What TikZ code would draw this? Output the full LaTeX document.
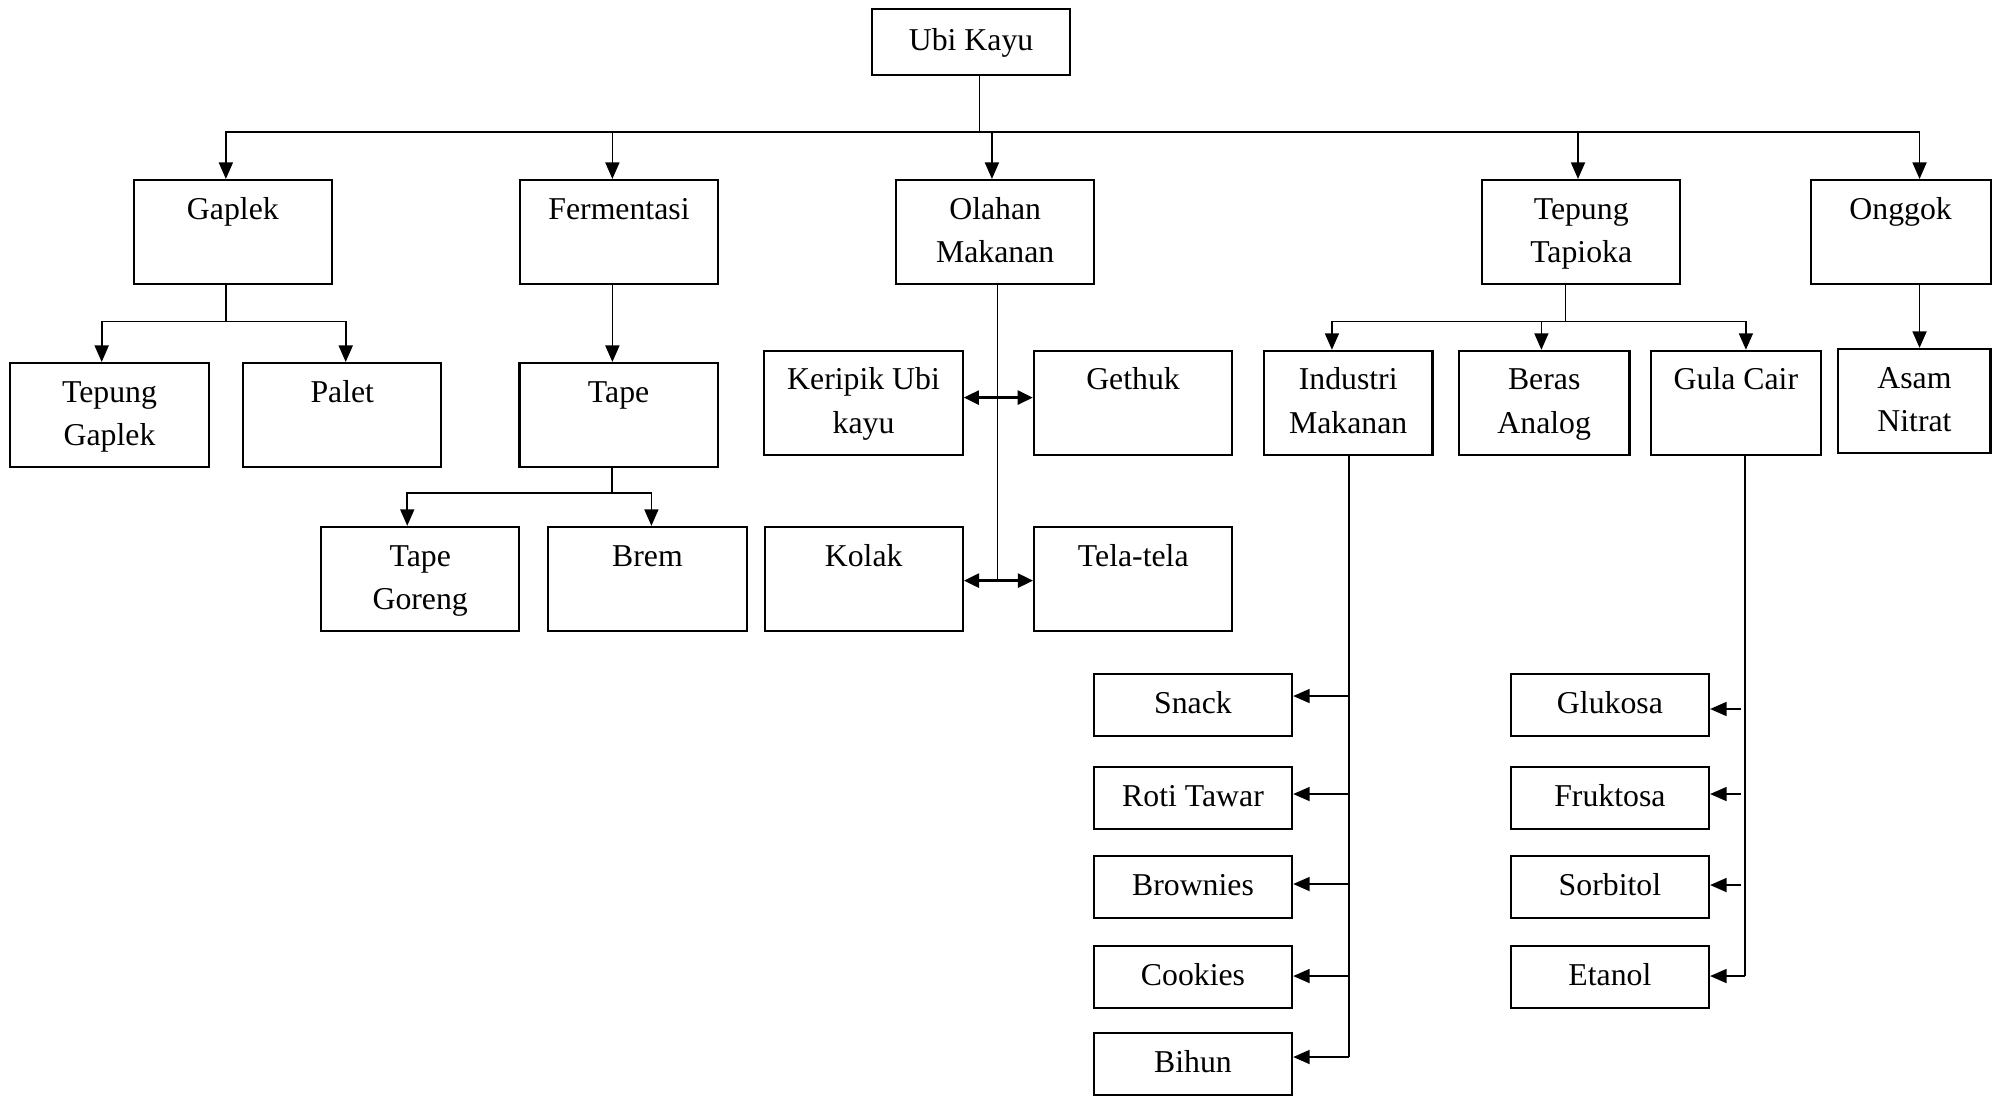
\documentclass[tikz,border=0pt]{standalone}
\usepackage{fontspec}
\setmainfont{Liberation Serif}
\usetikzlibrary{arrows.meta}
\begin{document}
\begin{tikzpicture}[x=1pt,y=-1pt,
  box/.style={draw,line width=1.6pt,minimum width=156pt,minimum height=82pt,inner sep=0pt,align=center,font=\fontsize{25}{34}\selectfont},
  sbox/.style={box,minimum height=48.8pt},
  conn/.style={line width=1.4pt},
  thin/.style={line width=1.1pt},
  arr/.style={conn,-{Triangle[length=13pt,width=11pt]}},
  dbl/.style={line width=2.2pt,{Triangle[length=12pt,width=11pt]}-{Triangle[length=12pt,width=11pt]}}]
\useasboundingbox (0,0) rectangle (1568,862);
% level 0
\node[box,minimum height=51.7pt] (ubi) at (764,33.2) {Ubi Kayu\strut};
% level 1
\node[box] (gaplek) at (183.2,182.6) {Gaplek\strut\\\strut};
\node[box] (ferm) at (487,182.6) {Fermentasi\strut\\\strut};
\node[box] (olahan) at (783,182.6) {Olahan\strut\\Makanan\strut};
\node[box] (tapioka) at (1244,182.6) {Tepung\strut\\Tapioka\strut};
\node[box,minimum width=141.5pt] (onggok) at (1495.3,182.6) {Onggok\strut\\\strut};
% level 2
\node[box] (tgaplek) at (86.2,326.6) {Tepung\strut\\Gaplek\strut};
\node[box] (palet) at (269.3,326.6) {Palet\strut\\\strut};
\node[box] (tape) at (486.7,326.6) {Tape\strut\\\strut};
\node[box] (tgoreng) at (330.6,455.5) {Tape\strut\\Goreng\strut};
\node[box] (brem) at (509.4,455.5) {Brem\strut\\\strut};
\node[box] (keripik) at (679.4,317) {Keripik Ubi\strut\\kayu\strut};
\node[box] (gethuk) at (891.4,317) {Gethuk\strut\\\strut};
\node[box] (kolak) at (679.5,455.5) {Kolak\strut\\\strut};
\node[box] (tela) at (891.6,455.5) {Tela-tela\strut\\\strut};
\node[box,minimum width=132.6pt] (industri) at (1060.7,317) {Industri\strut\\Makanan\strut};
\node[box,minimum width=134.2pt] (beras) at (1214.9,317) {Beras\strut\\Analog\strut};
\node[box,minimum width=133.6pt] (gula) at (1365.7,317) {Gula Cair\strut\\\strut};
\node[box,minimum width=119.6pt] (asam) at (1506.2,315.5) {Asam\strut\\Nitrat\strut};
% products
\node[sbox] (snack) at (938.6,554.4) {Snack\strut};
\node[sbox] (roti) at (938.6,627.9) {Roti Tawar\strut};
\node[sbox] (brownies) at (938.6,697.5) {Brownies\strut};
\node[sbox] (cookies) at (938.6,768.3) {Cookies\strut};
\node[sbox] (bihun) at (938.6,837.2) {Bihun\strut};
\node[sbox] (glukosa) at (1266.6,554.4) {Glukosa\strut};
\node[sbox] (fruktosa) at (1266.6,627.9) {Fruktosa\strut};
\node[sbox] (sorbitol) at (1266.6,697.5) {Sorbitol\strut};
\node[sbox] (etanol) at (1266.6,768.3) {Etanol\strut};
% main tree
\coordinate (hub) at (770.5,103.8);
\draw[thin] (ubi.south -| hub) -- (hub);
\draw[arr] (hub) -| ([xshift=-5.5pt]gaplek.north);
\draw[arr] (hub) -| ([xshift=-5.2pt]ferm.north);
\draw[arr] (hub) -| ([xshift=-2.6pt]olahan.north);
\draw[arr] (hub) -| ([xshift=-2.5pt]tapioka.north);
\draw[arr] (hub) -| ([xshift=14.9pt]onggok.north);
% gaplek
\coordinate (gj) at (177.7,253);
\draw[thin] ([xshift=-5.5pt]gaplek.south) -- (gj);
\draw[arr] (gj) -| ([xshift=-6.2pt]tgaplek.north);
\draw[arr] (gj) -| ([xshift=2.7pt]palet.north);
% fermentasi
\draw[arr] ([xshift=-5.2pt]ferm.south) -- ([xshift=-5.2pt]ferm.south |- tape.north);
\coordinate (tj) at (481.5,387.9);
\draw[thin] (tape.south -| tj) -- (tj);
\draw[arr] (tj) -| ([xshift=-10.2pt]tgoreng.north);
\draw[arr] (tj) -| ([xshift=3.1pt]brem.north);
% olahan
\coordinate (oend) at (785,456.8);
\draw[thin] (olahan.south -| oend) -- (oend);
\draw[dbl] ([yshift=4.2pt]keripik.east) -- ([yshift=4.2pt]keripik.east -| gethuk.west);
\draw[dbl] ([yshift=-1.3pt]kolak.east) -- ([yshift=-1.3pt]kolak.east -| tela.west);
% tapioka
\coordinate (pj) at (1231.6,253);
\draw[thin] (tapioka.south -| pj) -- (pj);
\draw[arr] (pj) -| ([xshift=-12.8pt]industri.north);
\draw[arr] (pj) -| ([xshift=-2.2pt]beras.north);
\draw[arr] (pj) -| ([xshift=7.9pt]gula.north);
% onggok
\draw[arr] ([xshift=14.9pt]onggok.south) -- ([xshift=14.9pt]onggok.south |- asam.north);
% industri
\coordinate (iend) at (1061.3,831.6);
\draw[thin] (industri.south -| iend) -- (iend);
\draw[arr] ([yshift=6.8pt]snack.east -| iend) -- ([yshift=6.8pt]snack.east);
\draw[arr] ([yshift=3.2pt]roti.east -| iend) -- ([yshift=3.2pt]roti.east);
\draw[arr] ([yshift=2pt]brownies.east -| iend) -- ([yshift=2pt]brownies.east);
\draw[arr] ([yshift=0.4pt]cookies.east -| iend) -- ([yshift=0.4pt]cookies.east);
\draw[arr] ([yshift=5.6pt]bihun.east -| iend) -- ([yshift=5.6pt]bihun.east);
% gula cair
\coordinate (gend) at (1372.8,767.9);
\draw[thin] (gula.south -| gend) -- (gend);
\draw[arr] (gend) -- (gend -| etanol.east);
\draw[arr] ([xshift=24.4pt,yshift=-3.4pt]glukosa.east) -- ([yshift=-3.4pt]glukosa.east);
\draw[arr] ([xshift=24.4pt,yshift=3.2pt]fruktosa.east) -- ([yshift=3.2pt]fruktosa.east);
\draw[arr] ([xshift=24.4pt,yshift=1.2pt]sorbitol.east) -- ([yshift=1.2pt]sorbitol.east);
\end{tikzpicture}
\end{document}
